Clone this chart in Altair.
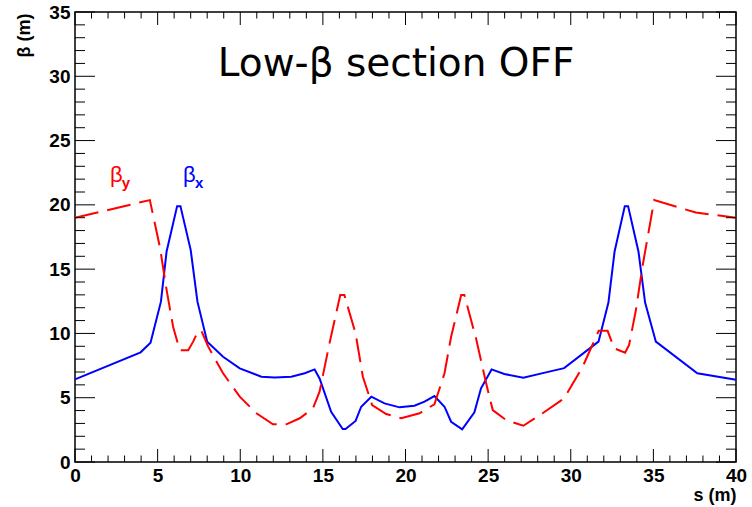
import altair as alt
import pandas as pd

# beta_x (solid blue)
s_x = [0, 3.97, 4.57, 5.2, 5.54, 6.18, 6.38, 7.0, 7.41, 8.0, 8.96, 9.97, 11.28, 12.08,
       13.09, 13.9, 14.5, 14.8, 15.5, 16.2, 16.37, 16.98, 17.32, 17.93, 18.73, 19.64,
       20.54, 21.15, 21.75, 22.36, 22.76, 23.43, 24.17, 24.57, 25.21, 25.98, 27.13,
       28.5, 29.6, 31.68, 32.28, 32.65, 33.27, 33.47, 34.1, 34.5, 35.15, 37.66, 40]
beta_x = [6.43, 8.53, 9.28, 12.47, 16.35, 19.9, 19.9, 16.5, 12.47, 9.36, 8.19, 7.28, 6.63, 6.58,
          6.63, 6.9, 7.2, 6.5, 3.9, 2.57, 2.57, 3.19, 4.3, 5.08, 4.56, 4.25,
          4.38, 4.69, 5.13, 4.3, 3.13, 2.54, 3.86, 5.73, 7.2, 6.84, 6.56,
          6.97, 7.3, 9.36, 12.4, 16.35, 19.9, 19.9, 16.35, 12.4, 9.36, 6.9, 6.4]

# beta_y (dashed red)
s_y = [0, 4.53, 5.14, 5.54, 5.94, 6.34, 6.85, 7.15, 7.45, 7.65, 8.06, 8.96, 9.97, 10.98,
       11.98, 12.79, 13.6, 14.4, 14.8, 15.4, 16.05, 16.3, 16.98, 17.42, 17.98, 18.83,
       19.74, 20.85, 21.75, 22.36, 22.76, 23.37, 23.56, 24.27, 24.88, 25.28, 26.08,
       27.13, 28.1, 29.6, 30.72, 31.69, 32.23, 32.63, 33.29, 33.53, 33.94, 34.34,
       35.05, 37.57, 40]
beta_y = [19.0, 20.37, 16.7, 13.4, 10.5, 8.7, 8.7, 9.36, 10.2, 10.2, 8.97, 6.9, 5.08, 3.79,
          2.93, 2.93, 3.4, 4.18, 5.47, 9.23, 12.99, 12.99, 10.0, 6.63, 4.43, 3.73,
          3.4, 3.79, 4.49, 6.9, 9.74, 12.99, 12.99, 9.6, 6.12, 4.04, 3.27,
          2.82, 3.62, 4.95, 7.41, 10.2, 10.2, 8.84, 8.5, 9.1, 11.8, 15.2,
          20.37, 19.4, 19.0]

x_major = [0, 5, 10, 15, 20, 25, 30, 35, 40]
x_minor = [i for i in range(0, 41) if i % 5]
y_major = [0, 5, 10, 15, 20, 25, 30, 35]
y_minor = [i for i in range(0, 36) if i % 5]

header = ["Low-β section OFF"]
header_pos = [19.43, 30.02]
beta_labels = ["β", "β"]
beta_label_s = [2.12, 6.54]
beta_label_b = [21.78, 21.78]
sub_labels = ["y", "x"]
sub_label_s = [2.83, 7.26]
sub_label_b = [21.31, 21.31]
label_colors = ["#ff0000", "#0000ff"]

W, H = 661, 450
FONT = "Liberation Sans"

xs = alt.Scale(domain=[0, 40], nice=False, zero=False)
ys = alt.Scale(domain=[0, 35], nice=False, zero=False)

x_axis = alt.Axis(values=x_major, format="d", ticks=False, tickSize=0, grid=False, domain=False,
                  labelFont=FONT, labelFontSize=19, labelFontWeight="bold", labelColor="black",
                  labelPadding=4, labelFlush=False,
                  title="s (m)", titleFont=FONT, titleFontSize=18, titleFontWeight="bold",
                  titleColor="black", titleAlign="right", titleAnchor="end",
                  titleX=W, titleY=38, titleBaseline="alphabetic")
y_axis = alt.Axis(values=y_major, format="d", ticks=False, tickSize=0, grid=False, domain=False,
                  labelFont=FONT, labelFontSize=19, labelFontWeight="bold", labelColor="black",
                  labelPadding=5, labelFlush=False, labelBaseline="middle",
                  title="β (m)", titleFont=FONT, titleFontSize=18, titleFontWeight="bold",
                  titleColor="black", titleAngle=270, titleAlign="right", titleAnchor="end",
                  titleX=-46, titleY=1, titleBaseline="alphabetic")


def X(field):
    return alt.X(field, type="quantitative", scale=xs, axis=x_axis)


def Y(field):
    return alt.Y(field, type="quantitative", scale=ys, axis=y_axis)


df_x = pd.DataFrame({"s": s_x, "b": beta_x})
df_y = pd.DataFrame({"s": s_y, "b": beta_y})

line_x = alt.Chart(df_x).mark_line(color="#0000ff", strokeWidth=2).encode(
    x=X("s"), y=Y("b"), order=alt.Order("s:Q"))
line_y = alt.Chart(df_y).mark_line(color="#ff0000", strokeWidth=2, strokeDash=[24, 9]).encode(
    x=X("s"), y=Y("b"), order=alt.Order("s:Q"))

# ticks drawn inside the frame (ROOT style)
def xticks(vals, length):
    d = pd.DataFrame({"v": vals})
    bottom = alt.Chart(d).mark_rule(color="black", strokeWidth=1).encode(
        x=X("v"), y=alt.value(H), y2=alt.value(H - length))
    top = alt.Chart(d).mark_rule(color="black", strokeWidth=1).encode(
        x=X("v"), y=alt.value(0), y2=alt.value(length))
    return [bottom, top]


def yticks(vals, length):
    d = pd.DataFrame({"v": vals})
    left = alt.Chart(d).mark_rule(color="black", strokeWidth=1).encode(
        y=Y("v"), x=alt.value(0), x2=alt.value(length))
    right = alt.Chart(d).mark_rule(color="black", strokeWidth=1).encode(
        y=Y("v"), x=alt.value(W), x2=alt.value(W - length))
    return [left, right]


tick_layers = xticks(x_major, 13) + xticks(x_minor, 6.5) + yticks(y_major, 20) + yticks(y_minor, 10)

hdr = alt.Chart(pd.DataFrame({"t": header, "s": [header_pos[0]], "b": [header_pos[1]]})).mark_text(
    font="DejaVu Sans", fontSize=39, align="center", baseline="alphabetic", color="black"
).encode(x=X("s"), y=Y("b"), text="t:N")

df_lab = pd.DataFrame({"t": beta_labels, "s": beta_label_s, "b": beta_label_b, "c": label_colors})
df_sub = pd.DataFrame({"t": sub_labels, "s": sub_label_s, "b": sub_label_b, "c": label_colors})

lab = alt.Chart(df_lab).mark_text(font=FONT, fontSize=22, align="left", baseline="alphabetic").encode(
    x=X("s"), y=Y("b"), text="t:N", color=alt.Color("c:N", scale=None))
sub = alt.Chart(df_sub).mark_text(font=FONT, fontSize=15, fontWeight="bold", align="left",
                                  baseline="alphabetic").encode(
    x=X("s"), y=Y("b"), text="t:N", color=alt.Color("c:N", scale=None))

chart = alt.layer(line_x, line_y, *tick_layers, hdr, lab, sub).properties(
    width=W, height=H,
    padding={"left": 75, "top": 12, "right": 16, "bottom": 45},
    autosize=alt.AutoSizeParams(type="none"),
    background="white",
).configure_view(stroke="black", strokeWidth=1.5)

chart.save("out.html", embed_options={"renderer": "svg", "actions": False})
